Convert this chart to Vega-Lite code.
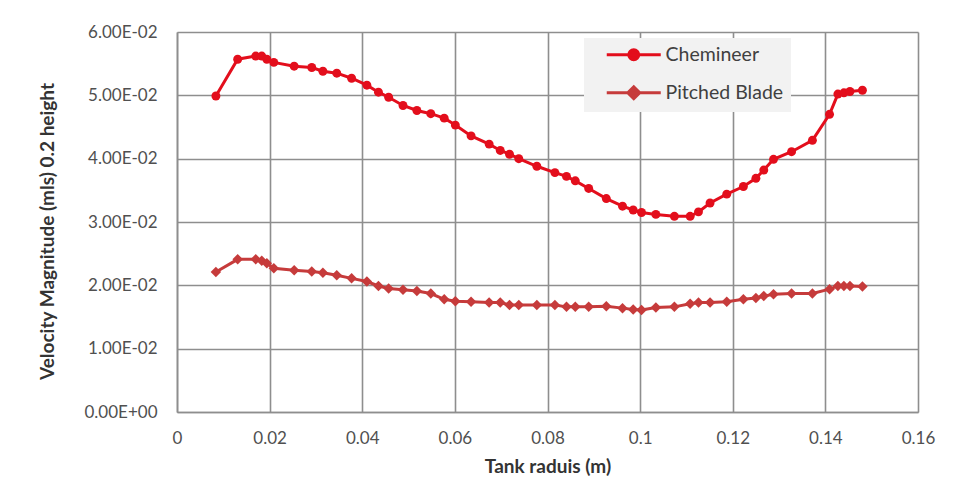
{
  "$schema": "https://vega.github.io/schema/vega-lite/v6.json",
  "width": 741,
  "height": 380,
  "autosize": {"type": "none"},
  "padding": {"left": 177, "top": 32, "right": 49, "bottom": 73},
  "background": "#ffffff",
  "config": {
    "view": {"stroke": null},
    "font": "Lato",
    "axis": {
      "gridColor": "#8e8e8e",
      "gridWidth": 1.6,
      "domainColor": "#8e8e8e",
      "domainWidth": 1.6,
      "ticks": false,
      "labelFont": "Lato",
      "labelFontSize": 17,
      "labelColor": "#505050",
      "titleFont": "Lato",
      "titleFontSize": 19,
      "titleFontWeight": "bold",
      "titleColor": "#333333"
    }
  },
  "data": {
    "values": [
      {"series": "Chemineer", "r": 0.0084, "v": 0.0499},
      {"series": "Chemineer", "r": 0.0131, "v": 0.0557},
      {"series": "Chemineer", "r": 0.0170, "v": 0.0562},
      {"series": "Chemineer", "r": 0.0183, "v": 0.0562},
      {"series": "Chemineer", "r": 0.0194, "v": 0.0557},
      {"series": "Chemineer", "r": 0.0209, "v": 0.0552},
      {"series": "Chemineer", "r": 0.0253, "v": 0.0546},
      {"series": "Chemineer", "r": 0.0291, "v": 0.0544},
      {"series": "Chemineer", "r": 0.0315, "v": 0.0538},
      {"series": "Chemineer", "r": 0.0345, "v": 0.0535},
      {"series": "Chemineer", "r": 0.0377, "v": 0.0527},
      {"series": "Chemineer", "r": 0.0410, "v": 0.0516},
      {"series": "Chemineer", "r": 0.0435, "v": 0.0505},
      {"series": "Chemineer", "r": 0.0457, "v": 0.0497},
      {"series": "Chemineer", "r": 0.0488, "v": 0.0484},
      {"series": "Chemineer", "r": 0.0518, "v": 0.0476},
      {"series": "Chemineer", "r": 0.0548, "v": 0.0471},
      {"series": "Chemineer", "r": 0.0577, "v": 0.0464},
      {"series": "Chemineer", "r": 0.0601, "v": 0.0453},
      {"series": "Chemineer", "r": 0.0635, "v": 0.0436},
      {"series": "Chemineer", "r": 0.0674, "v": 0.0423},
      {"series": "Chemineer", "r": 0.0698, "v": 0.0413},
      {"series": "Chemineer", "r": 0.0718, "v": 0.0407},
      {"series": "Chemineer", "r": 0.0738, "v": 0.0400},
      {"series": "Chemineer", "r": 0.0777, "v": 0.0388},
      {"series": "Chemineer", "r": 0.0816, "v": 0.0378},
      {"series": "Chemineer", "r": 0.0841, "v": 0.0372},
      {"series": "Chemineer", "r": 0.0860, "v": 0.0365},
      {"series": "Chemineer", "r": 0.0889, "v": 0.0353},
      {"series": "Chemineer", "r": 0.0927, "v": 0.0337},
      {"series": "Chemineer", "r": 0.0962, "v": 0.0325},
      {"series": "Chemineer", "r": 0.0985, "v": 0.0319},
      {"series": "Chemineer", "r": 0.1003, "v": 0.0315},
      {"series": "Chemineer", "r": 0.1034, "v": 0.0312},
      {"series": "Chemineer", "r": 0.1074, "v": 0.0309},
      {"series": "Chemineer", "r": 0.1108, "v": 0.0309},
      {"series": "Chemineer", "r": 0.1126, "v": 0.0316},
      {"series": "Chemineer", "r": 0.1151, "v": 0.0330},
      {"series": "Chemineer", "r": 0.1187, "v": 0.0344},
      {"series": "Chemineer", "r": 0.1223, "v": 0.0356},
      {"series": "Chemineer", "r": 0.1250, "v": 0.0369},
      {"series": "Chemineer", "r": 0.1267, "v": 0.0382},
      {"series": "Chemineer", "r": 0.1288, "v": 0.0399},
      {"series": "Chemineer", "r": 0.1327, "v": 0.0411},
      {"series": "Chemineer", "r": 0.1372, "v": 0.0429},
      {"series": "Chemineer", "r": 0.1409, "v": 0.0470},
      {"series": "Chemineer", "r": 0.1427, "v": 0.0502},
      {"series": "Chemineer", "r": 0.1440, "v": 0.0504},
      {"series": "Chemineer", "r": 0.1453, "v": 0.0506},
      {"series": "Chemineer", "r": 0.1480, "v": 0.0508},
      {"series": "Pitched Blade", "r": 0.0084, "v": 0.0221},
      {"series": "Pitched Blade", "r": 0.0131, "v": 0.0241},
      {"series": "Pitched Blade", "r": 0.0170, "v": 0.0241},
      {"series": "Pitched Blade", "r": 0.0183, "v": 0.0239},
      {"series": "Pitched Blade", "r": 0.0194, "v": 0.0235},
      {"series": "Pitched Blade", "r": 0.0209, "v": 0.0227},
      {"series": "Pitched Blade", "r": 0.0253, "v": 0.0224},
      {"series": "Pitched Blade", "r": 0.0291, "v": 0.0222},
      {"series": "Pitched Blade", "r": 0.0315, "v": 0.0220},
      {"series": "Pitched Blade", "r": 0.0345, "v": 0.0216},
      {"series": "Pitched Blade", "r": 0.0377, "v": 0.0211},
      {"series": "Pitched Blade", "r": 0.0410, "v": 0.0206},
      {"series": "Pitched Blade", "r": 0.0435, "v": 0.0199},
      {"series": "Pitched Blade", "r": 0.0457, "v": 0.0195},
      {"series": "Pitched Blade", "r": 0.0488, "v": 0.0193},
      {"series": "Pitched Blade", "r": 0.0518, "v": 0.0191},
      {"series": "Pitched Blade", "r": 0.0548, "v": 0.0187},
      {"series": "Pitched Blade", "r": 0.0577, "v": 0.0178},
      {"series": "Pitched Blade", "r": 0.0601, "v": 0.0175},
      {"series": "Pitched Blade", "r": 0.0635, "v": 0.0174},
      {"series": "Pitched Blade", "r": 0.0674, "v": 0.0173},
      {"series": "Pitched Blade", "r": 0.0698, "v": 0.0173},
      {"series": "Pitched Blade", "r": 0.0718, "v": 0.0169},
      {"series": "Pitched Blade", "r": 0.0738, "v": 0.0169},
      {"series": "Pitched Blade", "r": 0.0777, "v": 0.0169},
      {"series": "Pitched Blade", "r": 0.0816, "v": 0.0169},
      {"series": "Pitched Blade", "r": 0.0841, "v": 0.0166},
      {"series": "Pitched Blade", "r": 0.0860, "v": 0.0166},
      {"series": "Pitched Blade", "r": 0.0889, "v": 0.0166},
      {"series": "Pitched Blade", "r": 0.0927, "v": 0.0167},
      {"series": "Pitched Blade", "r": 0.0962, "v": 0.0164},
      {"series": "Pitched Blade", "r": 0.0985, "v": 0.0162},
      {"series": "Pitched Blade", "r": 0.1003, "v": 0.0161},
      {"series": "Pitched Blade", "r": 0.1034, "v": 0.0165},
      {"series": "Pitched Blade", "r": 0.1074, "v": 0.0166},
      {"series": "Pitched Blade", "r": 0.1108, "v": 0.0171},
      {"series": "Pitched Blade", "r": 0.1126, "v": 0.0173},
      {"series": "Pitched Blade", "r": 0.1151, "v": 0.0173},
      {"series": "Pitched Blade", "r": 0.1187, "v": 0.0174},
      {"series": "Pitched Blade", "r": 0.1223, "v": 0.0178},
      {"series": "Pitched Blade", "r": 0.1250, "v": 0.0180},
      {"series": "Pitched Blade", "r": 0.1267, "v": 0.0183},
      {"series": "Pitched Blade", "r": 0.1288, "v": 0.0186},
      {"series": "Pitched Blade", "r": 0.1327, "v": 0.0187},
      {"series": "Pitched Blade", "r": 0.1372, "v": 0.0187},
      {"series": "Pitched Blade", "r": 0.1409, "v": 0.0194},
      {"series": "Pitched Blade", "r": 0.1427, "v": 0.0199},
      {"series": "Pitched Blade", "r": 0.1440, "v": 0.0199},
      {"series": "Pitched Blade", "r": 0.1453, "v": 0.0199},
      {"series": "Pitched Blade", "r": 0.1480, "v": 0.0198}
    ]
  },
  "encoding": {
    "x": {
      "field": "r",
      "type": "quantitative",
      "title": "Tank raduis (m)",
      "scale": {"domain": [0, 0.16], "nice": false, "zero": false},
      "axis": {
        "values": [0, 0.02, 0.04, 0.06, 0.08, 0.1, 0.12, 0.14, 0.16],
        "format": ".2~f",
        "labelPadding": 18,
        "titlePadding": 11,
        "labelFlush": false
      }
    },
    "y": {
      "field": "v",
      "type": "quantitative",
      "title": "Velocity Magnitude (mls) 0.2 height",
      "scale": {"domain": [0, 0.06], "nice": false},
      "axis": {
        "values": [0, 0.01, 0.02, 0.03, 0.04, 0.05, 0.06],
        "labelExpr": "datum.value == 0 ? '0.00E+00' : format(datum.value * 100, '.2f') + 'E-02'",
        "labelPadding": 20,
        "titleX": -120,
        "titleY": 199,
        "labelFlush": false
      }
    },
    "color": {
      "field": "series",
      "type": "nominal",
      "scale": {"domain": ["Chemineer", "Pitched Blade"], "range": ["#E30E1C", "#C63B3B"]}
    }
  },
  "layer": [
    {
      "mark": {"type": "line", "strokeWidth": 3},
      "encoding": {
        "color": {
          "field": "series",
          "type": "nominal",
          "scale": {"domain": ["Chemineer", "Pitched Blade"], "range": ["#E30E1C", "#C63B3B"]},
          "legend": {
            "title": null,
            "orient": "none",
            "legendX": 407,
            "legendY": 6,
            "fillColor": "#F2F2F2",
            "padding": 7,
            "symbolSize": 100,
            "labelOffset": 55,
            "labelFont": "Lato",
            "labelFontSize": 19.5,
            "labelColor": "#404040",
            "rowPadding": 14,
            "labelExpr": "datum.label + '\u00a0\u00a0\u00a0\u00a0\u00a0'",
            "encode": {
              "symbols": {
                "update": {
                  "shape": {"signal": "datum.value === 'Chemineer' ? 'M1.2,0L12,0M7.6,0A1,1 0 1,1 5.6,0A1,1 0 1,1 7.6,0Z' : 'M1.2,0L12,0M5.4,0L6.6,-1.2L7.8,0L6.6,1.2Z'"},
                  "fill": {"signal": "scale('color', datum.value)"},
                  "stroke": {"signal": "scale('color', datum.value)"},
                  "strokeWidth": {"value": 3},
                  "opacity": {"value": 1}
                }
              }
            }
          }
        }
      }
    },
    {
      "transform": [{"filter": "datum.series === 'Chemineer'"}],
      "mark": {"type": "point", "filled": true, "shape": "circle", "size": 80, "opacity": 1},
      "encoding": {
        "color": {"field": "series", "type": "nominal", "legend": null}
      }
    },
    {
      "transform": [{"filter": "datum.series === 'Pitched Blade'"}],
      "mark": {"type": "point", "filled": true, "shape": "diamond", "size": 110, "opacity": 1},
      "encoding": {
        "color": {"field": "series", "type": "nominal", "legend": null}
      }
    }
  ]
}
